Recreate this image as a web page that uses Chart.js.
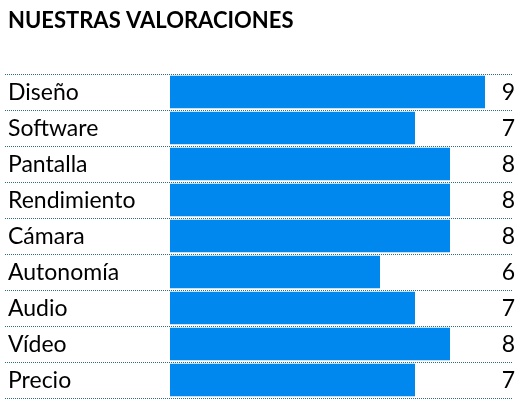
<!DOCTYPE html>
<html>
<head>
<meta charset="utf-8">
<script src="https://cdn.jsdelivr.net/npm/chart.js@4"></script>
<style>
  html, body { margin: 0; padding: 0; background: #fff; }
  #wrap { width: 532px; height: 403px; }
</style>
</head>
<body>
<div id="wrap"><canvas id="mycanvas"></canvas></div>
<script>
let categories = ["Diseño", "Software", "Pantalla", "Rendimiento", "Cámara", "Autonomía", "Audio", "Vídeo", "Precio"];
let scores = [9, 7, 8, 8, 8, 6, 7, 8, 7];
let chartTitle = "NUESTRAS VALORACIONES";

let fontFamily = "Lato, 'Liberation Sans', sans-serif";

// title, category labels, dotted separators and value labels
let decorations = {
    id: "decorations",
    afterDraw: function(chart) {
        let ctx = chart.ctx;
        let y = chart.scales.y;
        ctx.save();
        ctx.fillStyle = "#000";
        ctx.font = "bold 22px " + fontFamily;
        ctx.textAlign = "left";
        ctx.textBaseline = "middle";
        ctx.fillText(chartTitle, 8, 21);

        ctx.strokeStyle = "#2f6f7a";
        ctx.lineWidth = 1;
        ctx.setLineDash([1, 1]);
        let step = y.getPixelForValue(1) - y.getPixelForValue(0);
        for (let i = 0; i <= categories.length; i++) {
            let py = Math.round(y.getPixelForValue(i) - step / 2) + 0.5;
            ctx.beginPath();
            ctx.moveTo(5, py);
            ctx.lineTo(513, py);
            ctx.stroke();
        }
        ctx.setLineDash([]);

        ctx.font = "23px " + fontFamily;
        for (let i = 0; i < categories.length; i++) {
            ctx.textAlign = "left";
            ctx.fillText(categories[i], 8, y.getPixelForValue(i) + 1);
            ctx.textAlign = "right";
            ctx.fillText(String(scores[i]), 515, y.getPixelForValue(i) + 1);
        }
        ctx.restore();
    }
};

let ctx = document.getElementById("mycanvas");
new Chart(ctx, {
    type: "bar",
    data: {
        labels: categories,
        datasets: [{
            data: scores,
            backgroundColor: "#0088ee",
            borderWidth: 0,
            categoryPercentage: 0.9,
            barPercentage: 1.0
        }]
    },
    options: {
        indexAxis: "y",
        responsive: true,
        maintainAspectRatio: false,
        animation: false,
        layout: { padding: { top: 74, bottom: 5, left: 170, right: 29.5 } },
        plugins: { legend: { display: false }, tooltip: { enabled: false } },
        scales: {
            x: { display: false, min: 0, max: 9.5 },
            y: { display: false }
        }
    },
    plugins: [decorations]
});
</script>
</body>
</html>
